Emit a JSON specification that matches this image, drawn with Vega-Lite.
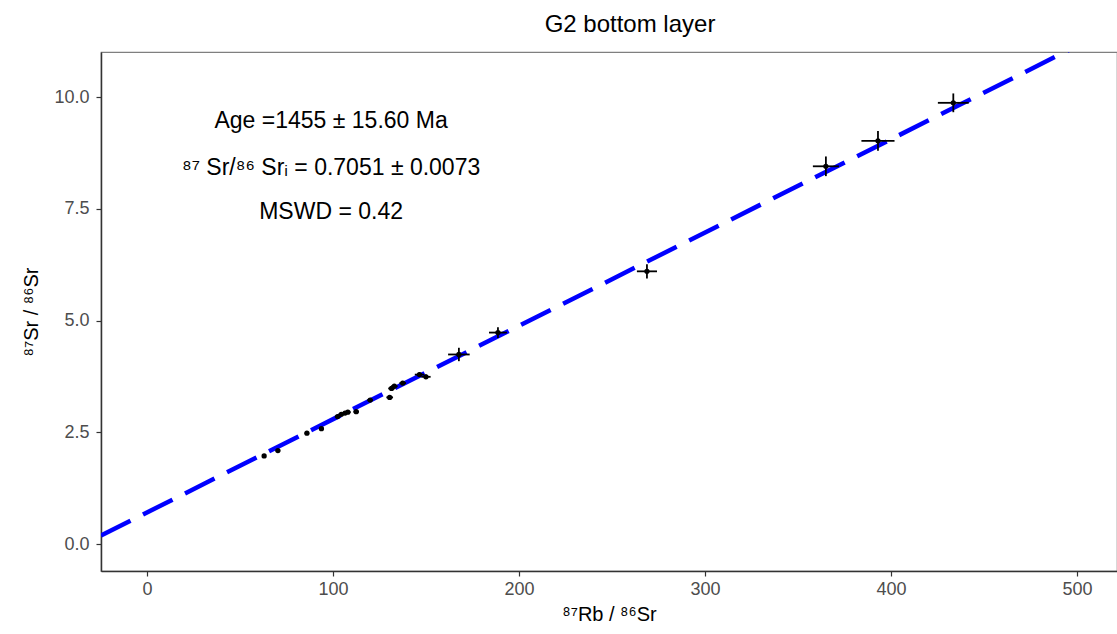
{
  "$schema": "https://vega.github.io/schema/vega-lite/v6.json",
  "autosize": "none",
  "width": 1016,
  "height": 519,
  "padding": {"left": 101, "top": 52, "right": 0, "bottom": 63},
  "background": "white",
  "config": {
    "font": "Liberation Sans",
    "view": {"stroke": "#7f7f7f", "strokeWidth": 1.2},
    "axis": {"grid": false, "domainColor": "#333333", "domainWidth": 1.5, "tickColor": "#333333", "tickWidth": 1.2, "tickSize": 5, "labelColor": "#4D4D4D", "labelFontSize": 18, "labelFont": "Liberation Sans", "titleFont": "Liberation Sans", "titleFontWeight": "normal", "titleFontSize": 20, "titleColor": "black"}
  },
  "title": {"text": "G2 bottom layer", "fontSize": 24, "fontWeight": "normal", "font": "Liberation Sans", "anchor": "middle", "offset": 15, "dx": 21, "color": "black"},
  "datasets": {
    "pts": [
      {"rb": 63.0, "sr": 1.97, "ex": 1.0, "ey": 0.025},
      {"rb": 70.4, "sr": 2.09, "ex": 1.2, "ey": 0.03},
      {"rb": 86.0, "sr": 2.48, "ex": 1.2, "ey": 0.03},
      {"rb": 93.8, "sr": 2.58, "ex": 1.2, "ey": 0.03},
      {"rb": 102.5, "sr": 2.85, "ex": 1.5, "ey": 0.035},
      {"rb": 104.5, "sr": 2.9, "ex": 1.5, "ey": 0.035},
      {"rb": 106.5, "sr": 2.93, "ex": 1.5, "ey": 0.035},
      {"rb": 108.0, "sr": 2.95, "ex": 1.5, "ey": 0.035},
      {"rb": 112.5, "sr": 2.96, "ex": 1.5, "ey": 0.035},
      {"rb": 120.0, "sr": 3.22, "ex": 1.5, "ey": 0.04},
      {"rb": 130.5, "sr": 3.28, "ex": 1.8, "ey": 0.04},
      {"rb": 131.5, "sr": 3.48, "ex": 1.8, "ey": 0.04},
      {"rb": 133.0, "sr": 3.53, "ex": 1.8, "ey": 0.04},
      {"rb": 137.5, "sr": 3.6, "ex": 1.8, "ey": 0.04},
      {"rb": 146.5, "sr": 3.79, "ex": 2.5, "ey": 0.05},
      {"rb": 150.0, "sr": 3.74, "ex": 2.5, "ey": 0.05},
      {"rb": 167.7, "sr": 4.24, "ex": 5.8, "ey": 0.15},
      {"rb": 188.7, "sr": 4.73, "ex": 4.8, "ey": 0.12},
      {"rb": 268.8, "sr": 6.1, "ex": 5.4, "ey": 0.16},
      {"rb": 365.0, "sr": 8.45, "ex": 7.0, "ey": 0.22},
      {"rb": 393.0, "sr": 9.02, "ex": 8.9, "ey": 0.22},
      {"rb": 433.5, "sr": 9.87, "ex": 8.3, "ey": 0.21}
    ],
    "fit": [
      {"rb": -24.7, "sr": 0.1894},
      {"rb": 521.5, "sr": 11.592}
    ],
    "notes": [
      {"rb": 99, "sr": 9.46, "label": "Age =1455 ± 15.60 Ma"},
      {"rb": 99, "sr": 8.41, "label": "⁸⁷ Sr/⁸⁶ Srᵢ = 0.7051 ± 0.0073"},
      {"rb": 99, "sr": 7.43, "label": "MSWD = 0.42"}
    ]
  },
  "encoding": {
    "x": {"field": "rb", "type": "quantitative", "scale": {"domain": [-24.7, 521.5], "nice": false, "zero": false},
          "axis": {"values": [0, 100, 200, 300, 400, 500], "title": "⁸⁷Rb / ⁸⁶Sr", "titlePadding": 6, "labelPadding": 4}},
    "y": {"field": "sr", "type": "quantitative", "scale": {"domain": [-0.604, 11.007], "nice": false, "zero": false},
          "axis": {"values": [0, 2.5, 5, 7.5, 10], "format": ".1f", "title": "⁸⁷Sr / ⁸⁶Sr", "titlePadding": 12, "labelPadding": 7}}
  },
  "layer": [
    {
      "data": {"name": "fit"},
      "mark": {"type": "line", "color": "#0000FF", "strokeWidth": 4.5, "strokeDash": [33, 14], "clip": true},
      "encoding": {}
    },
    {
      "data": {"name": "pts"},
      "transform": [
        {"calculate": "datum.rb - datum.ex", "as": "x1"},
        {"calculate": "datum.rb + datum.ex", "as": "x2"},
        {"calculate": "datum.sr - datum.ey", "as": "y1"},
        {"calculate": "datum.sr + datum.ey", "as": "y2"}
      ],
      "layer": [
        {"mark": {"type": "rule", "color": "black", "strokeWidth": 1.8},
         "encoding": {"x": {"field": "x1", "type": "quantitative"}, "x2": {"field": "x2"}}},
        {"mark": {"type": "rule", "color": "black", "strokeWidth": 1.8},
         "encoding": {"y": {"field": "y1", "type": "quantitative"}, "y2": {"field": "y2"}}},
        {"mark": {"type": "circle", "color": "black", "opacity": 1, "size": 28}}
      ]
    },
    {
      "data": {"name": "notes"},
      "mark": {"type": "text", "fontSize": 23, "font": "Liberation Sans", "color": "black", "align": "center", "baseline": "middle"},
      "encoding": {"text": {"field": "label"}}
    }
  ]
}
